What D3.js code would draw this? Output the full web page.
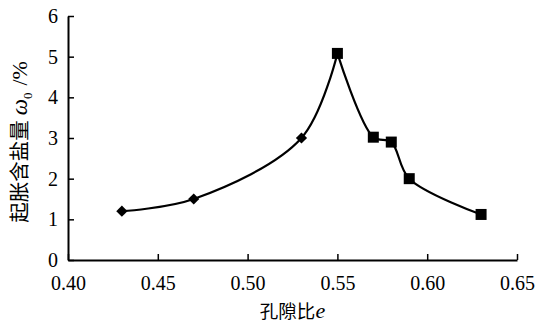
<!DOCTYPE html>
<html>
<head>
<meta charset="utf-8">
<script src="https://cdn.jsdelivr.net/npm/d3@7"></script>
<style>
body { margin: 0; background: #fff; }
svg { display: block; }
</style>
</head>
<body>
<svg id="chart" width="541" height="325"></svg>
<script>
// rising branch (diamonds) and falling branch (squares)
var riseE = [0.43, 0.47, 0.53, 0.55];
var riseW = [1.2, 1.5, 3.0, 5.08];
var fallE = [0.55, 0.57, 0.58, 0.59, 0.63];
var fallW = [5.08, 3.02, 2.9, 2.0, 1.12];
var xTicks = [0.40, 0.45, 0.50, 0.55, 0.60, 0.65];
var yTicks = [0, 1, 2, 3, 4, 5, 6];

var serif = '"Liberation Serif"';
var cjk = '"Noto Sans CJK SC"';

var svg = d3.select('#chart');
var margin = {left: 68, top: 16, right: 24, bottom: 65};
var w = 541 - margin.left - margin.right;
var h = 325 - margin.top - margin.bottom;

var x = d3.scaleLinear().domain([0.40, 0.65]).range([0, w]);
var y = d3.scaleLinear().domain([0, 6]).range([h, 0]);

var g = svg.append('g').attr('transform', 'translate(' + margin.left + ',' + margin.top + ')');

var xAxis = g.append('g')
	.attr('transform', 'translate(0,' + h + ')')
	.call(d3.axisBottom(x).tickValues(xTicks).tickFormat(d3.format('.2f')).tickSizeInner(-6).tickSizeOuter(0).tickPadding(16));
var yAxis = g.append('g')
	.call(d3.axisLeft(y).tickValues(yTicks).tickFormat(d3.format('d')).tickSizeInner(-6).tickSizeOuter(0).tickPadding(10));

[xAxis, yAxis].forEach(function(a) {
	a.attr('font-family', serif).attr('font-size', 20);
	a.select('.domain').attr('stroke', '#000').attr('stroke-width', 2);
	a.selectAll('.tick line').attr('stroke', '#000').attr('stroke-width', 1.5);
	a.selectAll('.tick text').attr('fill', '#000');
});
xAxis.selectAll('.tick text').attr('dy', '0.71em');

var line = d3.line()
	.x(function(d) { return x(d[0]); })
	.y(function(d) { return y(d[1]); })
	.curve(d3.curveCatmullRom.alpha(0.5));

var rise = d3.zip(riseE, riseW);
var fall = d3.zip(fallE, fallW);

g.append('path').datum(rise)
	.attr('d', line).attr('fill', 'none').attr('stroke', '#000').attr('stroke-width', 2.2);
g.append('path').datum(fall)
	.attr('d', line).attr('fill', 'none').attr('stroke', '#000').attr('stroke-width', 2.2);

g.selectAll('.dia').data(rise.slice(0, 3)).enter().append('path')
	.attr('class', 'dia')
	.attr('transform', function(d) { return 'translate(' + x(d[0]) + ',' + y(d[1]) + ')'; })
	.attr('d', d3.symbol().type(d3.symbolDiamond2).size(80))
	.attr('fill', '#000');

g.selectAll('.sq').data(fall).enter().append('rect')
	.attr('class', 'sq')
	.attr('x', function(d) { return x(d[0]) - 5.5; })
	.attr('y', function(d) { return y(d[1]) - 5.5; })
	.attr('width', 11).attr('height', 11)
	.attr('fill', '#000');

// axis titles
var ylab = svg.append('text')
	.attr('transform', 'translate(27,142) rotate(-90)')
	.attr('text-anchor', 'middle')
	.attr('font-family', cjk).attr('font-size', 20.5).attr('fill', '#000');
ylab.append('tspan').text('起胀含盐量');
ylab.append('tspan').text('ω').attr('font-family', serif).attr('font-style', 'italic').attr('font-size', 23).attr('dx', 5);
ylab.append('tspan').text('0').attr('font-family', serif).attr('font-size', 13).attr('dy', 5);
ylab.append('tspan').text('/%').attr('font-family', serif).attr('font-size', 22).attr('dy', -5).attr('dx', 7);

var xlab = svg.append('text')
	.attr('x', margin.left + w / 2).attr('y', 318)
	.attr('text-anchor', 'middle')
	.attr('font-family', cjk).attr('font-size', 18.5).attr('fill', '#000');
xlab.append('tspan').text('孔隙比');
xlab.append('tspan').text('e').attr('font-family', serif).attr('font-style', 'italic').attr('font-size', 22);
</script>
</body>
</html>
